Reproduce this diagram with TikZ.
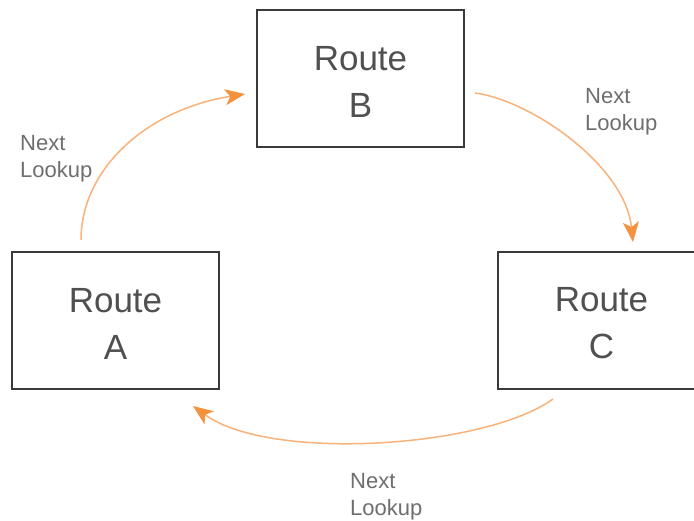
\documentclass[tikz,border=0pt]{standalone}
\usepackage{fontspec}
\setmainfont{Liberation Sans}
\usetikzlibrary{arrows.meta}
\definecolor{boxline}{RGB}{58,58,58}
\definecolor{routetext}{RGB}{80,80,80}
\definecolor{labeltext}{RGB}{110,110,110}
\definecolor{arrowline}{RGB}{249,178,122}
\definecolor{arrowhead}{RGB}{246,146,62}
\tikzset{
  routebox/.style={draw=boxline, line width=1.5pt, minimum width=207pt, minimum height=137pt,
    inner sep=0pt},
  routetext/.style={align=center, text=routetext, inner sep=0pt, font=\fontsize{35}{47}\selectfont},
  lookuplabel/.style={anchor=base west, align=left, text=labeltext, inner sep=0pt,
    font=\fontsize{22}{27}\selectfont},
  nextarrow/.style={draw=arrowline, line width=1.5pt,
    -{Stealth[length=20pt, width=16pt, inset=5pt, color=arrowhead]}}
}
\begin{document}
\begin{tikzpicture}[x=1pt,y=-1pt]
\clip (0,0) rectangle (694,521);
\fill[white] (0,0) rectangle (694,521);
\node[routebox] (B) at (360.5,78.5) {};
\node[routebox] (A) at (115.5,320.5) {};
\node[routebox] (C) at (601.5,320.5) {};
\node[routetext] (Bt) at ([yshift=-3pt]B.center) {Route\\B};
\node[routetext] (At) at ([yshift=-3pt]A.center) {Route\\A};
\node[routetext] (Ct) at ([yshift=-3pt]C.center) {Route\\C};
% arrow end points
\coordinate (ab1) at (81,240);
\coordinate (ab2) at (245,94);
\coordinate (bc1) at (475,93);
\coordinate (bc2) at (633,242);
\coordinate (ca1) at (553,399);
\coordinate (ca2) at (193,406);
\draw[nextarrow] (ab1) .. controls (81,170) and (145,110) .. (ab2);
\draw[nextarrow] (bc1) .. controls (530,100) and (625,165) .. (bc2);
\draw[nextarrow] (ca1) .. controls (485,448) and (270,462) .. (ca2);
\node[lookuplabel] (l1) at (20,178) {Next\\Lookup};
\node[lookuplabel] (l2) at (585,131) {Next\\Lookup};
\node[lookuplabel] (l3) at (350,515) {Next\\Lookup};
\end{tikzpicture}
\end{document}
